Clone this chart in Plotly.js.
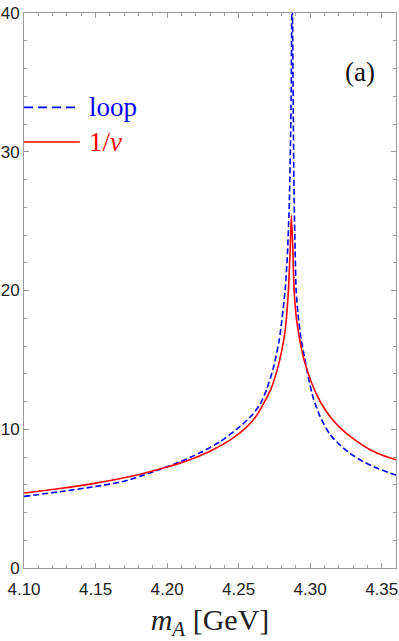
<!DOCTYPE html>
<html>
<head>
<meta charset="utf-8">
<script src="https://cdn.plot.ly/plotly-3.0.1.min.js"></script>
<style>html,body{margin:0;padding:0;background:#fff;}#chart{width:399px;height:641px;}</style>
</head>
<body>
<div id="chart"></div>
<script>
// Series
const loopX = [4.100, 4.125, 4.150, 4.170, 4.188, 4.209, 4.223, 4.237, 4.251, 4.2592, 4.265, 4.2697, 4.2745, 4.2785, 4.2825, 4.2841, 4.2855, 4.2866, 4.2871, 4.2874, 4.2877, 4.2882, 4.2888, 4.2895, 4.2902, 4.2915, 4.2935, 4.2953, 4.2988, 4.3023, 4.3070, 4.3140, 4.3210, 4.3280, 4.3373, 4.3466, 4.3559, 4.3600];
const loopY = [5.16, 5.50, 5.87, 6.25, 6.85, 7.65, 8.30, 9.10, 10.2, 11.0, 11.8, 12.9, 14.5, 16.5, 20.0, 22.6, 26.5, 33.0, 40.0, 60.0, 40.0, 33.0, 26.5, 22.9, 20.0, 18.3, 16.6, 15.6, 13.7, 12.2, 10.9, 9.6, 8.85, 8.25, 7.65, 7.20, 6.84, 6.70];

const invVX = [4.100, 4.125, 4.150, 4.175, 4.200, 4.215, 4.230, 4.245, 4.255, 4.262, 4.268, 4.273, 4.277, 4.2800, 4.2825, 4.2848, 4.2860, 4.2869, 4.2879, 4.2888, 4.2905, 4.2930, 4.2960, 4.3012, 4.3070, 4.314, 4.321, 4.328, 4.335, 4.342, 4.351, 4.360];
const invVY = [5.40, 5.73, 6.12, 6.61, 7.28, 7.77, 8.42, 9.29, 10.1, 10.9, 11.95, 13.0, 14.3, 15.6, 17.1, 20.0, 22.9, 25.4, 22.9, 20.0, 17.9, 16.3, 14.9, 13.3, 12.0, 10.9, 10.1, 9.48, 8.96, 8.52, 8.10, 7.80];

const xTicks = [4.10, 4.15, 4.20, 4.25, 4.30, 4.35];
const xTickText = ['4.10', '4.15', '4.20', '4.25', '4.30', '4.35'];
const yTicks = [0, 10, 20, 30, 40];
const legendNames = ['loop', '1/<i>ν</i>'];
const legendLevels = [33.2, 30.7];

const serif = 'Liberation Serif, Times New Roman, serif';
const sans = 'Liberation Sans, Arial, sans-serif';

const traces = [
  {x: loopX, y: loopY, type: 'scatter', mode: 'lines', name: 'loop',
   line: {color: '#0000ff', width: 1.6, dash: '6px,3px', shape: 'spline', smoothing: 0.6}, showlegend: false},
  {x: invVX, y: invVY, type: 'scatter', mode: 'lines', name: '1/ν',
   line: {color: '#ff0000', width: 1.6, shape: 'spline', smoothing: 0.6}, showlegend: false}
];

const axisCommon = {
  showgrid: false, zeroline: false, showline: true, linecolor: '#999', linewidth: 1,
  mirror: 'ticks', ticks: 'inside', ticklen: 5, tickwidth: 1, tickcolor: '#999',
  tickfont: {family: sans, size: 17, color: '#222'}
};

const layout = {
  width: 399, height: 641,
  margin: {l: 24, r: 3, t: 13, b: 73},
  paper_bgcolor: '#fff', plot_bgcolor: '#fff',
  xaxis: Object.assign({}, axisCommon, {
    range: [4.10, 4.36], tickvals: xTicks, ticktext: xTickText, ticklabelstandoff: 6,
    minor: {dtick: 0.01, tick0: 4.10, ticks: 'inside', ticklen: 3, tickcolor: '#999'},
    title: {text: '<i>m</i><sub><i>A</i></sub> [GeV]', font: {family: serif, size: 30, color: '#222'}, standoff: 22}
  }),
  yaxis: Object.assign({}, axisCommon, {
    range: [0, 40], tickvals: yTicks,
    minor: {dtick: 2, tick0: 0, ticks: 'inside', ticklen: 3, tickcolor: '#999'}
  }),
  shapes: [
    {type: 'line', xref: 'paper', yref: 'y', x0: 0, x1: 0.14, y0: legendLevels[0], y1: legendLevels[0],
     line: {color: '#0000ff', width: 1.6, dash: '9px,5px'}},
    {type: 'line', xref: 'paper', yref: 'y', x0: 0, x1: 0.15, y0: legendLevels[1], y1: legendLevels[1],
     line: {color: '#ff0000', width: 1.6}}
  ],
  annotations: [
    {xref: 'paper', yref: 'y', x: 0.17, y: legendLevels[0], xanchor: 'left', yanchor: 'middle',
     text: legendNames[0], showarrow: false, font: {family: serif, size: 27, color: '#0000ff'}},
    {xref: 'paper', yref: 'y', x: 0.17, y: legendLevels[1], xanchor: 'left', yanchor: 'middle',
     text: legendNames[1], showarrow: false, font: {family: serif, size: 27, color: '#ff0000'}},
    {xref: 'paper', yref: 'paper', x: 0.95, y: 0.894, xanchor: 'right', yanchor: 'middle',
     text: '(a)', showarrow: false, font: {family: serif, size: 27, color: '#111'}}
  ]
};

Plotly.newPlot('chart', traces, layout, {displayModeBar: false, staticPlot: true});
</script>
</body>
</html>
